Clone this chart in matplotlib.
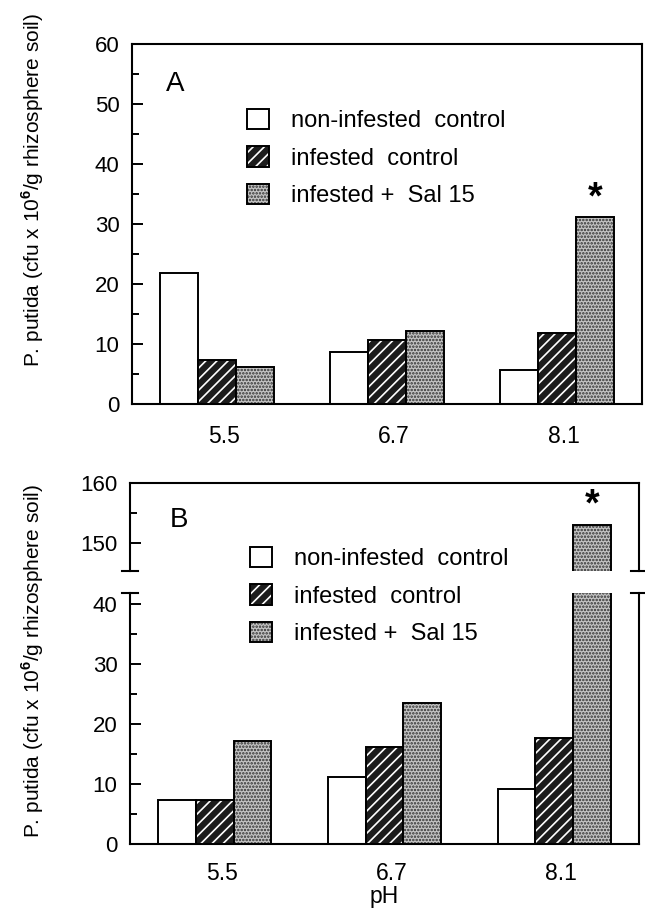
import numpy as np
import matplotlib
matplotlib.use("Agg")
import matplotlib.pyplot as plt

plt.rcParams['font.family'] = ['Liberation Sans', 'DejaVu Sans']
plt.rcParams['mathtext.fontset'] = 'custom'
plt.rcParams['mathtext.rm'] = 'Liberation Sans'
plt.rcParams['mathtext.bf'] = 'Liberation Sans:bold'
plt.rcParams['hatch.linewidth'] = 1.2

# data
ph = ['5.5', '6.7', '8.1']
series = ['non-infested  control', 'infested  control', 'infested +  Sal 15']
a_noninf = [21.8, 8.7, 5.7]
a_inf = [7.3, 10.7, 11.8]
a_sal = [6.1, 12.2, 31.2]
b_noninf = [7.4, 11.2, 9.2]
b_inf = [7.4, 16.2, 17.6]
b_sal = [17.1, 23.5, 153.0]
sig_group = 2  # asterisk over pH 8.1, Sal 15

ylab = r"P. putida (cfu x 10$^{\mathbf{6}}$/g rhizosphere soil)"

W, H = 645, 916
fig = plt.figure(figsize=(W / 100, H / 100), dpi=100)


def fbox(x0, y0, x1, y1):
    # pixel box (top-left origin) -> figure fraction rect
    return [x0 / W, 1 - y1 / H, (x1 - x0) / W, (y1 - y0) / H]


styles = [
    dict(fc='white', hc='white', hatch=None),
    dict(fc='#1c1c1c', hc='white', hatch='///'),
    dict(fc='#c4c4c4', hc='#303030', hatch='.....'),
]
bw = 0.222
x = np.arange(len(ph))


def draw_bars(ax, vals):
    handles = []
    for i, (v, st) in enumerate(zip(vals, styles)):
        xs = x + (i - 1) * bw
        f = ax.bar(xs, v, bw, color=st['fc'], edgecolor=st['hc'], hatch=st['hatch'], lw=0)
        e = ax.bar(xs, v, bw, fill=False, edgecolor='black', lw=1.4)
        handles.append((f, e))
    return handles


def style_y(ax, major, minor):
    ax.set_yticks(major)
    ax.set_yticks(minor, minor=True)
    ax.tick_params(axis='y', which='major', direction='in', length=8, width=1.4,
                   pad=9, labelsize=16)
    ax.tick_params(axis='y', which='minor', direction='in', length=5, width=1.4)
    for s in ax.spines.values():
        s.set_linewidth(1.5)


def style_x(ax, pad=15):
    ax.set_xlim(-0.5, 2.5)
    ax.set_xticks(x + 0.04, ph)
    ax.tick_params(axis='x', length=0, pad=pad, labelsize=16.5)


leg_kw = dict(loc='upper left', frameon=False, fontsize=17, handlelength=0.95,
              handleheight=0.95, handletextpad=0.9, labelspacing=0.6,
              borderpad=0, borderaxespad=0)

# ---- panel A
axA = fig.add_axes(fbox(132, 44, 642, 404))
hA = draw_bars(axA, [a_noninf, a_inf, a_sal])
axA.set_ylim(0, 60)
style_y(axA, np.arange(0, 61, 10), np.arange(5, 60, 10))
style_x(axA)
axA.text(x[sig_group] + bw, a_sal[sig_group] + 3.1, '*', ha='center', va='center',
         fontsize=27, fontweight='bold')
fig.text(175 / W, 1 - 84 / H, 'A', fontsize=20, ha='center', va='center')
fig.legend(hA, series, bbox_to_anchor=(247 / W, 1 - 109 / H), **leg_kw)
fig.text(33 / W, 1 - 190 / H, ylab, rotation=90, ha='center', va='center', fontsize=15)

# ---- panel B (broken axis)
axT = fig.add_axes(fbox(130, 483, 639, 571))
axB = fig.add_axes(fbox(130, 593, 639, 844))
draw_bars(axT, [b_noninf, b_inf, b_sal])
hB = draw_bars(axB, [b_noninf, b_inf, b_sal])
axT.set_ylim(145.3, 160)
axB.set_ylim(0, 41.8)
style_y(axT, [150, 160], [155])
style_y(axB, np.arange(0, 41, 10), np.arange(5, 40, 10))
style_x(axB, pad=13)
axT.set_xlim(-0.5, 2.5)
axT.set_xticks([])
axT.spines['bottom'].set_visible(False)
axB.spines['top'].set_visible(False)
axB.set_xlabel('pH', fontsize=16.5, labelpad=0)

d = 8 / 509
for xx in (0, 1):
    axT.plot([xx - d, xx + d], [0, 0], transform=axT.transAxes, color='black',
             lw=1.5, clip_on=False)
    axB.plot([xx - d, xx + d], [1, 1], transform=axB.transAxes, color='black',
             lw=1.5, clip_on=False)

axT.text(x[sig_group] + bw, b_sal[sig_group] + 3.3, '*', ha='center', va='center',
         fontsize=27, fontweight='bold')
fig.text(179 / W, 1 - 520 / H, 'B', fontsize=20, ha='center', va='center')
fig.legend(hB, series, bbox_to_anchor=(250 / W, 1 - 547 / H), **leg_kw)
fig.text(33 / W, 1 - 661 / H, ylab, rotation=90, ha='center', va='center', fontsize=15)

fig.savefig('out.png', dpi=100)
